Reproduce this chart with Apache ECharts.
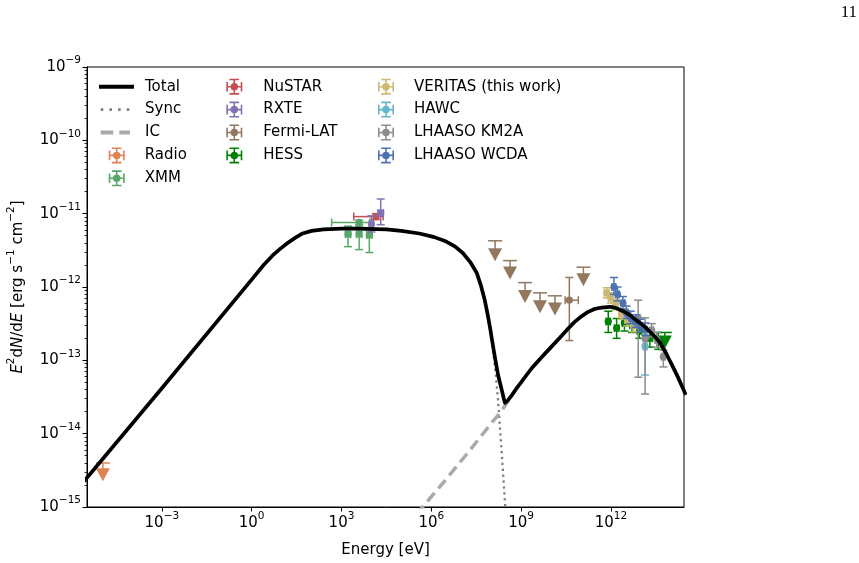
<!DOCTYPE html>
<html>
<head>
    <meta charset='utf-8'>
    <script src="https://cdn.jsdelivr.net/npm/echarts@6/dist/echarts.min.js"></script>
</head>
<body>
<style>
    html, body {
        margin: 0;
        padding: 0;
        background: #fff;
    }
    #main {
        width: 859px;
        height: 563px;
    }
</style>
<div id="main"></div>
<script>

    // all values are log10: energy in eV, flux in erg s^-1 cm^-2

    // model curves [logE, logF]
    var syncCurve = [
        [-5.6, -14.65], [-3.0, -13.38], [0, -11.90], [0.4, -11.70], [0.7, -11.57], [0.95, -11.48],
        [1.2, -11.40], [1.45, -11.33], [1.7, -11.27], [2.0, -11.235], [2.4, -11.215], [3.0, -11.205],
        [3.5, -11.205], [4.5, -11.215], [5.0, -11.235], [5.6, -11.27], [6.1, -11.32], [6.5, -11.38],
        [6.8, -11.45], [7.06, -11.54], [7.3, -11.66], [7.52, -11.81], [7.65, -11.97], [7.78, -12.17],
        [7.88, -12.37], [7.96, -12.56], [8.06, -12.86], [8.15, -13.18], [8.23, -13.55], [8.35, -14.25],
        [8.46, -14.93], [8.52, -15.3]
    ];
    var icCurve = [
        [5.5, -15.1], [6.5, -14.62], [7.3, -14.22], [8.0, -13.86], [8.29, -13.72], [8.46, -13.62],
        [8.6, -13.53], [8.8, -13.41], [9.0, -13.30], [9.2, -13.19], [9.39, -13.09], [9.7, -12.95],
        [10.0, -12.82], [10.3, -12.69], [10.52, -12.59], [10.75, -12.49], [10.95, -12.42],
        [11.19, -12.35], [11.45, -12.30], [11.7, -12.28], [11.97, -12.27], [12.15, -12.285],
        [12.30, -12.31], [12.5, -12.35], [12.65, -12.39], [12.8, -12.44], [12.97, -12.49],
        [13.15, -12.55], [13.3, -12.61], [13.5, -12.69], [13.64, -12.76], [13.85, -12.91],
        [14.07, -13.09], [14.25, -13.24], [14.5, -13.47]
    ];
    var totalCurve = [
        [-5.6, -14.65], [-3.0, -13.38], [0, -11.90], [0.4, -11.70], [0.7, -11.57], [0.95, -11.48],
        [1.2, -11.40], [1.45, -11.33], [1.7, -11.27], [2.0, -11.235], [2.4, -11.215], [3.0, -11.205],
        [3.5, -11.205], [4.5, -11.215], [5.0, -11.235], [5.6, -11.27], [6.1, -11.32], [6.5, -11.38],
        [6.8, -11.45], [7.06, -11.54], [7.3, -11.66], [7.52, -11.81], [7.65, -11.97], [7.78, -12.17],
        [7.88, -12.37], [7.96, -12.55], [8.04, -12.75], [8.12, -12.95], [8.23, -13.20], [8.35, -13.40],
        [8.42, -13.52], [8.46, -13.58], [8.55, -13.55], [8.7, -13.47], [8.85, -13.38], [9.0, -13.30],
        [9.2, -13.19], [9.39, -13.09], [9.7, -12.95], [10.0, -12.82], [10.3, -12.69], [10.52, -12.59],
        [10.75, -12.49], [10.95, -12.42], [11.19, -12.35], [11.45, -12.30], [11.7, -12.28],
        [11.97, -12.27], [12.15, -12.285], [12.30, -12.31], [12.5, -12.35], [12.65, -12.39],
        [12.8, -12.44], [12.97, -12.49], [13.15, -12.55], [13.3, -12.61], [13.5, -12.69],
        [13.64, -12.76], [13.85, -12.91], [14.07, -13.09], [14.25, -13.24], [14.5, -13.47]
    ];

    // measurements [logE, logF, logElo, logEhi, logFlo, logFhi]
    var xmmPts = [
        [3.59, -11.12, 2.67, 3.95, -11.15, -11.09],
        [3.22, -11.28, 3.13, 3.31, -11.45, -11.17],
        [3.59, -11.28, 3.50, 3.68, -11.49, -11.17],
        [3.93, -11.29, 3.84, 4.02, -11.53, -11.19]
    ];
    var nustarPts = [
        [4.15, -11.04, 3.41, 4.39, -11.08, -11.00]
    ];
    var rxtePts = [
        [4.00, -11.14, 3.93, 4.07, -11.25, -11.03],
        [4.31, -10.99, 4.22, 4.40, -11.15, -10.80]
    ];
    var fermiPts = [
        [10.61, -12.18, 10.47, 10.91, -12.73, -11.87]
    ];
    var hessPts = [
        [11.91, -12.47, 11.84, 11.98, -12.62, -12.33],
        [12.19, -12.56, 12.12, 12.26, -12.70, -12.43],
        [12.45, -12.49, 12.38, 12.52, -12.60, -12.38],
        [12.70, -12.52, 12.63, 12.77, -12.62, -12.42],
        [12.95, -12.60, 12.88, 13.02, -12.70, -12.50],
        [13.30, -12.70, 13.23, 13.37, -12.82, -12.60],
        [13.58, -12.72, 13.51, 13.65, -12.85, -12.62]
    ];
    var veritasPts = [
        [11.86, -12.08, 11.78, 11.94, -12.15, -12.01],
        [12.00, -12.15, 11.92, 12.08, -12.22, -12.08],
        [12.15, -12.24, 12.07, 12.23, -12.31, -12.17],
        [12.35, -12.37, 12.27, 12.43, -12.44, -12.30],
        [12.55, -12.45, 12.47, 12.63, -12.53, -12.37],
        [12.75, -12.52, 12.67, 12.83, -12.61, -12.43]
    ];
    var hawcPts = [
        [13.14, -12.81, 13.08, 13.20, -13.20, -12.70]
    ];
    var km2aPts = [
        [12.91, -12.42, 12.85, 12.97, -13.23, -12.18],
        [13.14, -12.70, 13.08, 13.20, -13.46, -12.42],
        [13.36, -12.59, 13.30, 13.42, -12.68, -12.50],
        [13.53, -12.72, 13.47, 13.59, -12.82, -12.62],
        [13.75, -12.95, 13.69, 13.81, -13.09, -12.86]
    ];
    var wcdaPts = [
        [12.10, -12.00, 12.04, 12.16, -12.10, -11.87],
        [12.22, -12.10, 12.16, 12.28, -12.19, -12.00],
        [12.40, -12.22, 12.34, 12.46, -12.30, -12.13],
        [12.52, -12.35, 12.46, 12.58, -12.43, -12.26],
        [12.66, -12.42, 12.60, 12.72, -12.50, -12.33],
        [12.82, -12.47, 12.76, 12.88, -12.55, -12.38],
        [12.98, -12.53, 12.92, 13.04, -12.61, -12.44],
        [13.15, -12.58, 13.09, 13.21, -12.66, -12.49]
    ];

    // upper limits [logE, logF (arrow), logF (cap)]
    var radioUL = [[-4.97, -14.56, -14.40]];
    var fermiUL = [
        [8.13, -11.56, -11.37], [8.63, -11.81, -11.64], [9.13, -12.13, -11.94],
        [9.63, -12.27, -12.08], [10.13, -12.30, -12.12], [11.08, -11.90, -11.73]
    ];
    var hessUL = [[13.80, -12.75, -12.62]];

    var xTicks = [-3, 0, 3, 6, 9, 12];
    var yTicks = [-15, -14, -13, -12, -11, -10, -9];

    // decade ticks plus the 2..9 minor ticks of a log axis
    var allY = yTicks.slice();
    yTicks.slice(0, -1).forEach(function (d) {
        for (var k = 2; k <= 9; k++) allY.push(d + Math.log10(k));
    });

    var FONT = 'DejaVu Sans';
    var supRich = {
        b: {fontSize: 15, lineHeight: 24, fontFamily: FONT, color: '#000'},
        it: {fontSize: 15, lineHeight: 24, fontFamily: FONT, fontStyle: 'italic', color: '#000'},
        sup: {fontSize: 10.5, lineHeight: 12, verticalAlign: 'top', fontFamily: FONT, color: '#000'}
    };
    function powLabel(v) {
        var n = Math.round(v);
        return '{b|10}{sup|' + (n < 0 ? '\u2212' + (-n) : n) + '}';
    }

    function seg(x1, y1, x2, y2, color) {
        return {type: 'line', shape: {x1: x1, y1: y1, x2: x2, y2: y2},
            style: {stroke: color, lineWidth: 1.5}};
    }

    function errRender(params, api) {
        var x = api.value(0), y = api.value(1);
        var p = api.coord([x, y]);
        var xl = api.coord([api.value(2), y])[0];
        var xh = api.coord([api.value(3), y])[0];
        var yl = api.coord([x, api.value(4)])[1];
        var yh = api.coord([x, api.value(5)])[1];
        var color = api.visual('color');
        var c = 4;
        var kids = [
            seg(xl, p[1], xh, p[1], color),
            seg(xl, p[1] - c, xl, p[1] + c, color),
            seg(xh, p[1] - c, xh, p[1] + c, color),
            seg(p[0], yl, p[0], yh, color),
            seg(p[0] - c, yl, p[0] + c, yl, color),
            seg(p[0] - c, yh, p[0] + c, yh, color),
            {type: 'circle', shape: {cx: p[0], cy: p[1], r: 3.6}, style: {fill: color}}
        ];
        return {type: 'group', children: kids};
    }

    function ulRender(params, api) {
        var p = api.coord([api.value(0), api.value(1)]);
        var yc = api.coord([api.value(0), api.value(2)])[1];
        var color = api.visual('color');
        var w = 7, h = 6.5;
        return {
            type: 'group', children: [
                seg(p[0], p[1], p[0], yc, color),
                seg(p[0] - 7, yc, p[0] + 7, yc, color),
                {type: 'polygon', shape: {points: [[p[0] - w, p[1] - h], [p[0] + w, p[1] - h], [p[0], p[1] + h]]},
                    style: {fill: color}}
            ]
        };
    }

    function errSeries(name, color, data) {
        return {name: name, type: 'custom', renderItem: errRender, data: data,
            itemStyle: {color: color}, encode: {x: 0, y: 1}, clip: true};
    }
    function ulSeries(name, color, data) {
        return {name: name, type: 'custom', renderItem: ulRender, data: data,
            itemStyle: {color: color}, encode: {x: 0, y: [1, 2]}, clip: true};
    }

    var errIcon = 'path://M0.5 7.25H15.5V8.75H0.5Z M7.25 0.5H8.75V15.5H7.25Z M0.5 3.5H2V12.5H0.5Z ' +
        'M14 3.5H15.5V12.5H14Z M3.5 0.5H12.5V2H3.5Z M3.5 14H12.5V15.5H3.5Z ' +
        'M11.5 8A3.5 3.5 0 1 1 4.5 8A3.5 3.5 0 1 1 11.5 8Z';
    var totalIcon = 'path://M0 0H35V4H0Z';
    var syncIcon = 'path://M0 0h2.6v2.6h-2.6Z M8.7 0h2.6v2.6h-2.6Z M17.4 0h2.6v2.6h-2.6Z M26 0h2.6v2.6h-2.6Z';
    var icIcon = 'path://M0 0h12.6v4h-12.6Z M18.6 0h10.7v4h-10.7Z';

    var legendText = {fontFamily: FONT, fontSize: 15, color: '#000', lineHeight: 16};
    function makeLegend(names, icon, left, top, w, pad) {
        return {
            orient: 'vertical', left: left, top: top, itemWidth: w, itemHeight: 16, itemGap: 6.9,
            selectedMode: false, padding: 0, symbolKeepAspect: true,
            textStyle: Object.assign({padding: [0, 0, 0, pad]}, legendText),
            data: names.map(function (n) { return {name: n, icon: icon}; })
        };
    }

    var chart = echarts.init(document.getElementById('main'), null, {renderer: 'canvas'});

    chart.setOption({
        animation: false,
        backgroundColor: '#fff',
        title: {
            text: '11', right: 2, top: 4, padding: 0,
            textStyle: {fontFamily: 'Liberation Serif', fontSize: 17, fontWeight: 'normal', color: '#000'}
        },
        grid: {
            left: 87, right: 175, top: 67, bottom: 56,
            show: true, borderColor: '#000', borderWidth: 1,
            outerBoundsMode: 'none'
        },
        legend: [
            makeLegend(['Total'], totalIcon, 99, 78.7, 35, 6),
            makeLegend(['Sync'], syncIcon, 100.7, 101.6, 28.6, 10.7),
            makeLegend(['IC'], icIcon, 100.7, 124.5, 29.3, 10),
            makeLegend(['Radio', 'XMM'], errIcon, 108.7, 147.4, 16, 15),
            makeLegend(['NuSTAR', 'RXTE', 'Fermi-LAT', 'HESS'], errIcon, 226.3, 78.7, 16, 16),
            makeLegend(['VERITAS (this work)', 'HAWC', 'LHAASO KM2A', 'LHAASO WCDA'], errIcon, 378, 78.7, 16, 15)
        ],
        xAxis: {
            type: 'value', min: -5.5, max: 14.44,
            name: 'Energy [eV]', nameLocation: 'middle', nameGap: 36,
            nameTextStyle: {fontFamily: FONT, fontSize: 15, color: '#000'},
            axisLine: {show: true, onZero: false, lineStyle: {color: '#000', width: 1}},
            axisTick: {show: true, length: 4.5, lineStyle: {color: '#000'}, customValues: xTicks},
            axisLabel: {customValues: xTicks, formatter: powLabel, rich: supRich, margin: 4},
            splitLine: {show: false}
        },
        yAxis: [{
            type: 'value', min: -15, max: -9, interval: 1,
            name: '{it|E}{sup|2}{b|d}{it|N}{b|/d}{it|E}{b| [erg s}{sup|\u22121}{b| cm}{sup|\u22122}{b|]}',
            nameLocation: 'middle', nameGap: 57,
            nameTextStyle: {rich: supRich},
            axisLine: {show: true, onZero: false, lineStyle: {color: '#000', width: 1}},
            axisTick: {show: true, length: 2.5, lineStyle: {color: '#000', width: 0.8}, customValues: allY},
            axisLabel: {customValues: yTicks, formatter: powLabel, rich: supRich, margin: 6},
            splitLine: {show: false}
        }, {
            type: 'value', min: -15, max: -9, position: 'left', offset: 0,
            axisLine: {show: true, onZero: false, lineStyle: {color: '#000', width: 1}},
            axisTick: {show: true, length: 4.5, lineStyle: {color: '#000', width: 1}, customValues: yTicks},
            axisLabel: {show: false},
            splitLine: {show: false}
        }],
        series: [
            {
                name: 'Total', type: 'line', data: totalCurve, showSymbol: false, symbol: 'none',
                lineStyle: {color: '#000', width: 3.7, join: 'round'},
                itemStyle: {color: '#000'}, z: 3
            },
            {
                name: 'Sync', type: 'line', data: syncCurve, showSymbol: false, symbol: 'none',
                lineStyle: {color: '#808080', width: 2.3, type: [2.3, 3.6]},
                itemStyle: {color: '#808080'}, z: 2
            },
            {
                name: 'IC', type: 'line', data: icCurve, showSymbol: false, symbol: 'none',
                lineStyle: {color: '#aaaaaa', width: 3.5, type: [11, 6]},
                itemStyle: {color: '#aaaaaa'}, z: 2
            },
            ulSeries('Radio', '#dd8452', radioUL),
            errSeries('XMM', '#55a868', xmmPts),
            errSeries('NuSTAR', '#c44e52', nustarPts),
            errSeries('RXTE', '#8172b3', rxtePts),
            errSeries('Fermi-LAT', '#937860', fermiPts),
            ulSeries('Fermi-LAT', '#937860', fermiUL),
            errSeries('HESS', '#008000', hessPts),
            ulSeries('HESS', '#008000', hessUL),
            errSeries('VERITAS (this work)', '#ccb974', veritasPts),
            errSeries('HAWC', '#64b5cd', hawcPts),
            errSeries('LHAASO KM2A', '#8c8c8c', km2aPts),
            errSeries('LHAASO WCDA', '#4c72b0', wcdaPts)
        ]
    });
</script>
</body>
</html>
